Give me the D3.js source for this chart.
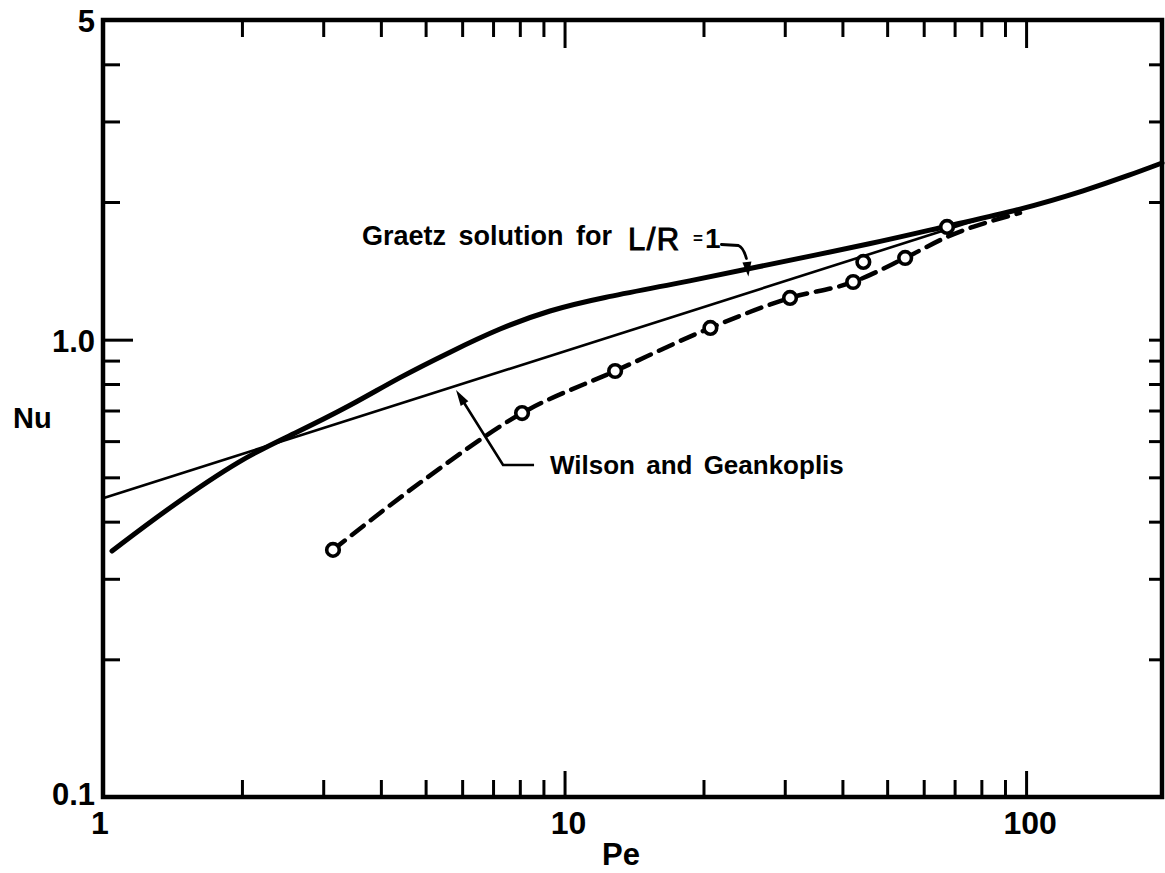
<!DOCTYPE html>
<html>
<head>
<meta charset="utf-8">
<script src="https://cdn.jsdelivr.net/npm/d3@7"></script>
<style>
  html, body { margin: 0; padding: 0; background: #fff; }
  svg { display: block; }
  text { font-family: "Liberation Sans", Arial, sans-serif; fill: #000; }
</style>
</head>
<body>
<svg id="chart" width="1165" height="873"></svg>
<script>
// ---------------- data ----------------
const xTickMinor = [2, 3, 4, 5, 6, 7, 8, 9, 20, 30, 40, 50, 60, 70, 80, 90];
const xTickMajor = [10, 100];
const xTickLabelValues = [1, 10, 100];
const xTickLabels = ["1", "10", "100"];

const yTickMinor = [0.2, 0.3, 0.4, 0.5, 0.6, 0.7, 0.8, 0.9, 2, 3, 4];
const yTickMajor = [1];
const yTickLabelValues = [0.1, 1, 5];
const yTickLabels = ["0.1", "1.0", "5"];

// Graetz solution for L/R = 1 (thick curve)
const graetzPe = [1.046, 1.376, 2.011, 2.59, 3.43, 4.40, 5.65, 7.25, 9.30, 11.94, 17.8, 24.9, 48.3, 67.4, 97.0, 135.6, 168, 197];
const graetzNu = [0.345, 0.426, 0.553, 0.622, 0.716, 0.829, 0.940, 1.060, 1.161, 1.234, 1.330, 1.428, 1.635, 1.773, 1.921, 2.125, 2.292, 2.434];

// Wilson and Geankoplis (thin straight line)
const wgPe = [1, 80];
const wgNu = [0.45, 1.84];

// experimental dashed curve
const expLinePe = [3.15, 5.06, 8.09, 12.87, 20.7, 30.8, 42.2, 54.7, 67.4, 97.0];
const expLineNu = [0.347, 0.501, 0.691, 0.854, 1.061, 1.234, 1.337, 1.509, 1.677, 1.893];

// experimental points (open circles)
const expPe = [3.15, 8.09, 12.87, 20.7, 30.8, 42.2, 44.4, 54.7, 67.4];
const expNu = [0.347, 0.691, 0.854, 1.061, 1.234, 1.337, 1.479, 1.509, 1.764];

// annotation anchors (data coordinates)
const graetzLabel = { text: "Graetz solution for", pe: 3.64, nu: 1.611 };
const graetzArrow = { pe: 24.9, nu: 1.46 };
const wgLabel = { text: "Wilson and Geankoplis", pe: 9.30, nu: 0.5085 };
const wgArrow = { pe: 5.82, nu: 0.776 };

// ---------------- chart ----------------
const svg = d3.select("#chart");
const x = d3.scaleLog().domain([1, 197]).range([103, 1162]);
const y = d3.scaleLog().domain([0.1, 5]).range([797, 20]);

const tickStyle = g => {
  g.select(".domain").remove();
  g.selectAll(".tick line").attr("stroke", "#000").attr("stroke-width", 3);
  g.selectAll(".tick text").remove();
};

// bottom ticks (inward)
svg.append("g").attr("transform", `translate(0,${y(0.1)})`)
  .call(d3.axisBottom(x).tickValues(xTickMinor).tickSize(-17).tickFormat(""))
  .call(tickStyle);
svg.append("g").attr("transform", `translate(0,${y(0.1)})`)
  .call(d3.axisBottom(x).tickValues(xTickMajor).tickSize(-26).tickFormat(""))
  .call(tickStyle);
// top ticks (inward)
svg.append("g").attr("transform", `translate(0,${y(5)})`)
  .call(d3.axisTop(x).tickValues(xTickMinor).tickSize(-17).tickFormat(""))
  .call(tickStyle);
svg.append("g").attr("transform", `translate(0,${y(5)})`)
  .call(d3.axisTop(x).tickValues(xTickMajor).tickSize(-28).tickFormat(""))
  .call(tickStyle);
// left ticks (inward)
svg.append("g").attr("transform", `translate(${x(1)},0)`)
  .call(d3.axisLeft(y).tickValues(yTickMinor).tickSize(-17).tickFormat(""))
  .call(tickStyle);
svg.append("g").attr("transform", `translate(${x(1)},0)`)
  .call(d3.axisLeft(y).tickValues(yTickMajor).tickSize(-30).tickFormat(""))
  .call(tickStyle);
// right ticks (inward)
svg.append("g").attr("transform", `translate(${x(197)},0)`)
  .call(d3.axisRight(y).tickValues(yTickMinor.concat(yTickMajor)).tickSize(-13).tickFormat(""))
  .call(tickStyle);

// frame
svg.append("rect")
  .attr("x", x(1)).attr("y", y(5))
  .attr("width", x(197) - x(1)).attr("height", y(0.1) - y(5))
  .attr("fill", "none").attr("stroke", "#000").attr("stroke-width", 4.5);

// tick labels
svg.selectAll("text.xl").data(xTickLabelValues).enter().append("text")
  .attr("class", "xl")
  .attr("x", d => x(d) + (d === 1 ? -3 : 4)).attr("y", y(0.1) + 37)
  .attr("text-anchor", "middle")
  .attr("font-size", 32).attr("font-weight", "bold")
  .text((d, i) => xTickLabels[i]);

svg.selectAll("text.yl").data(yTickLabelValues).enter().append("text")
  .attr("class", "yl")
  .attr("x", x(1) - 8).attr("y", d => y(d) + (d === 0.1 ? 8 : 12))
  .attr("text-anchor", "end")
  .attr("font-size", 31).attr("font-weight", "bold")
  .text((d, i) => yTickLabels[i]);

// axis titles
svg.append("text").attr("x", 621).attr("y", 865)
  .attr("text-anchor", "middle").attr("font-size", 31).attr("font-weight", "bold").text("Pe");
svg.append("text").attr("x", 13).attr("y", 428)
  .attr("text-anchor", "start").attr("font-size", 29).attr("font-weight", "bold").text("Nu");

// curves
const line = d3.line().x(d => x(d[0])).y(d => y(d[1]));

svg.append("path")
  .datum(wgPe.map((p, i) => [p, wgNu[i]]))
  .attr("d", line.curve(d3.curveLinear))
  .attr("fill", "none").attr("stroke", "#000").attr("stroke-width", 2.6);

svg.append("path")
  .datum(graetzPe.map((p, i) => [p, graetzNu[i]]))
  .attr("d", line.curve(d3.curveBasis))
  .attr("fill", "none").attr("stroke", "#000").attr("stroke-width", 5)
  .attr("stroke-linecap", "round").attr("stroke-linejoin", "round");

svg.append("path")
  .datum(expLinePe.map((p, i) => [p, expLineNu[i]]))
  .attr("d", line.curve(d3.curveMonotoneX))
  .attr("fill", "none").attr("stroke", "#000").attr("stroke-width", 4.5)
  .attr("stroke-dasharray", "15,9").attr("stroke-linecap", "round");

svg.selectAll("circle.pt").data(expPe.map((p, i) => [p, expNu[i]])).enter().append("circle")
  .attr("class", "pt")
  .attr("cx", d => x(d[0])).attr("cy", d => y(d[1]))
  .attr("r", 6.3)
  .attr("fill", "#fff").attr("stroke", "#000").attr("stroke-width", 3.6);

// ---------------- annotations ----------------
// Graetz label
const gx = x(graetzLabel.pe), gy = y(graetzLabel.nu);
svg.append("text").attr("x", gx).attr("y", gy)
  .attr("font-size", 27).attr("font-weight", "bold").attr("word-spacing", 5)
  .text(graetzLabel.text);
svg.append("text").attr("x", gx + 266).attr("y", gy + 5)
  .attr("font-size", 31).attr("letter-spacing", 1.5)
  .attr("stroke", "#000").attr("stroke-width", 1)
  .text("L/R");
svg.append("text").attr("x", gx + 331).attr("y", gy - 1)
  .attr("font-size", 17).attr("font-weight", "bold")
  .text("=");
svg.append("text").attr("x", gx + 343).attr("y", gy + 3)
  .attr("font-size", 28).attr("font-weight", "bold")
  .text("1");

// Graetz leader with arrow
const ax = x(graetzArrow.pe), ay = y(graetzArrow.nu);
svg.append("path")
  .attr("d", `M${ax - 26},${ay - 20} L${ax - 9},${ay - 19} Q${ax - 4},${ay - 17} ${ax - 1},${ay - 6}`)
  .attr("fill", "none").attr("stroke", "#000").attr("stroke-width", 2.8).attr("stroke-linecap", "round");
svg.append("path")
  .attr("d", `M${ax + 1},${ay + 12} L${ax - 5},${ay - 2} L${ax + 4},${ay - 3} Z`)
  .attr("fill", "#000");

// Wilson label
svg.append("text").attr("x", x(wgLabel.pe)).attr("y", y(wgLabel.nu))
  .attr("font-size", 26).attr("font-weight", "bold").attr("word-spacing", 4)
  .text(wgLabel.text);

// Wilson leader with arrow
const wx = x(wgArrow.pe), wy = y(wgArrow.nu);
svg.append("path")
  .attr("d", `M${wx + 5},${wy + 8} L${wx + 47},${wy + 75} L${wx + 78},${wy + 75}`)
  .attr("fill", "none").attr("stroke", "#000").attr("stroke-width", 2.6);
(function () {
  const dx = 47, dy = 75, len = Math.hypot(dx, dy);
  const ux = dx / len, uy = dy / len;
  const bx = wx + ux * 16, by = wy + uy * 16;
  const px = -uy * 4.5, py = ux * 4.5;
  svg.append("path")
    .attr("d", `M${wx},${wy} L${bx + px},${by + py} L${bx - px},${by - py} Z`)
    .attr("fill", "#000");
})();
</script>
</body>
</html>
